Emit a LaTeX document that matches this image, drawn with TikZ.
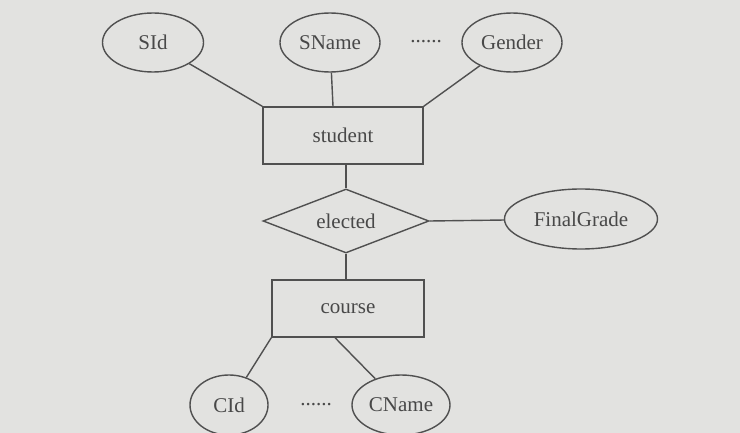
\documentclass[tikz,border=0pt]{standalone}
\usepackage{fontspec}
\setmainfont{Liberation Serif}
\usetikzlibrary{shapes.geometric}
\definecolor{paper}{RGB}{226,226,224}
\definecolor{ink}{RGB}{80,80,80}
\begin{document}
\begin{tikzpicture}[x=1pt,y=-1pt,
  every node/.style={font=\fontsize{21}{24}\selectfont, text=ink!90!black},
  attr/.style={draw=ink, line width=1.4pt, ellipse, inner sep=0pt},
  entity/.style={draw=ink, line width=1.4pt, rectangle, inner sep=0pt},
  rel/.style={draw=ink, line width=1.4pt, diamond, inner sep=0pt, aspect=2.6},
  link/.style={draw=ink, line width=1.4pt}]
\fill[paper] (0,0) rectangle (740,433);
\useasboundingbox (0,0) rectangle (740,433);
\node[attr, minimum width=101pt, minimum height=59pt] (sid) at (153,42.5) {SId};
\node[attr, minimum width=100pt, minimum height=59pt] (sname) at (330,42.5) {SName};
\node[attr, minimum width=100pt, minimum height=59pt] (gender) at (512,42.5) {Gender};
\node (dots1) at (426,42) {......};
\node[entity, minimum width=160pt, minimum height=57pt] (stu) at (343,135.5) {student};
\node[rel, minimum width=166pt, minimum height=64pt] (el) at (346,221) {elected};
\node[attr, minimum width=153pt, minimum height=60pt] (fg) at (581,219) {FinalGrade};
\node[entity, minimum width=152pt, minimum height=57pt] (course) at (348,308.5) {course};
\node[attr, minimum width=78pt, minimum height=60pt] (cid) at (229,405) {CId};
\node[attr, minimum width=98pt, minimum height=60pt] (cname) at (401,405) {CName};
\node (dots2) at (316,405) {......};
\draw[link] (sid) -- (stu.north west);
\draw[link] (sname) -- ([xshift=-10pt]stu.north);
\draw[link] (gender) -- (stu.north east);
\draw[link] ([xshift=3pt]stu.south) -- (el.north);
\draw[link] (el.east) -- (fg);
\draw[link] (el.south) -- (el.south |- course.north);
\draw[link] (course.south west) -- (cid);
\draw[link] ([xshift=-13pt]course.south) -- (cname);
\end{tikzpicture}
\end{document}
